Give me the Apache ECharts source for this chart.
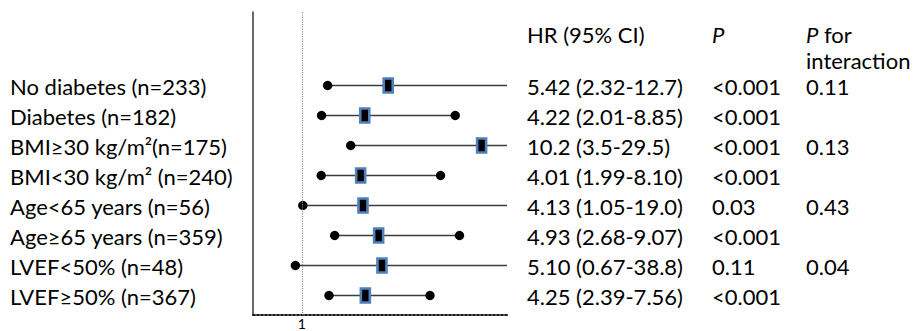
<!DOCTYPE html>
<html>
<head>
<meta charset="utf-8">
<title>Subgroup hazard ratios</title>
<script src="https://cdn.jsdelivr.net/npm/echarts@6/dist/echarts.min.js"></script>
<style>
  html, body { margin: 0; padding: 0; background: #fff; }
  #chart { width: 919px; height: 331px; }
</style>
</head>
<body>
<div id="chart"></div>
<script>
// Subgroups and their hazard ratios with 95% confidence limits
const subgroups = [
  'No diabetes (n=233)',
  'Diabetes (n=182)',
  'BMI≥30 kg/m²(n=175)',
  'BMI<30 kg/m² (n=240)',
  'Age<65 years (n=56)',
  'Age≥65 years (n=359)',
  'LVEF<50% (n=48)',
  'LVEF≥50% (n=367)'
];
const hr    = [5.42, 4.22, 10.2, 4.01, 4.13, 4.93, 5.10, 4.25];
const lower = [2.32, 2.01, 3.5, 1.99, 1.05, 2.68, 0.67, 2.39];
const upper = [12.7, 8.85, 29.5, 8.10, 19.0, 9.07, 38.8, 7.56];
const hrLabels = [
  '5.42 (2.32-12.7)',
  '4.22 (2.01-8.85)',
  '10.2 (3.5-29.5)',
  '4.01 (1.99-8.10)',
  '4.13 (1.05-19.0)',
  '4.93 (2.68-9.07)',
  '5.10 (0.67-38.8)',
  '4.25 (2.39-7.56)'
];
const pValues = ['<0.001', '<0.001', '<0.001', '<0.001', '0.03', '<0.001', '0.11', '<0.001'];
const pInteraction = ['0.11', '', '0.13', '', '0.43', '', '0.04', ''];
const xTickLabels = ['1'];

const FONT = 'Lato';
const FS = 22;
const TXT = { fontFamily: FONT, fontSize: FS, fill: '#000', verticalAlign: 'middle' };

const forestData = hr.map((v, i) => [i, lower[i], v, upper[i]]);
const tableData = subgroups.map((s, i) => [0, i]);

function renderForest(params, api) {
  const row = api.value(0);
  const lo = api.coord([api.value(1), row]);
  const est = api.coord([api.value(2), row]);
  const hi = api.coord([api.value(3), row]);
  const cs = params.coordSys;
  const xMin = cs.x, xMax = cs.x + cs.width;
  const y = est[1];
  const children = [];
  children.push({
    type: 'line',
    shape: { x1: Math.max(lo[0], xMin), y1: y, x2: Math.min(hi[0], xMax), y2: y },
    style: { stroke: '#3c3c3c', lineWidth: 1.6 }
  });
  [lo, hi].forEach(p => {
    if (p[0] >= xMin && p[0] <= xMax) {
      children.push({ type: 'circle', shape: { cx: p[0], cy: y, r: 4.7 }, style: { fill: '#000' } });
    }
  });
  children.push({
    type: 'rect',
    shape: { x: est[0] - 4.5, y: y - 7, width: 9, height: 14 },
    style: { fill: '#000', stroke: '#4f81bd', lineWidth: 2.6 }
  });
  return { type: 'group', children };
}

function renderTable(params, api) {
  const i = api.value(1);
  const y = api.coord([0, i])[1] + 1;
  return {
    type: 'group',
    children: [
      { type: 'text', x: 10, y, style: Object.assign({ text: subgroups[i] }, TXT) },
      { type: 'text', x: 527, y, style: Object.assign({ text: hrLabels[i] }, TXT) },
      { type: 'text', x: 712, y, style: Object.assign({ text: pValues[i] }, TXT) },
      { type: 'text', x: 806, y, style: Object.assign({ text: pInteraction[i] }, TXT) }
    ]
  };
}

const chart = echarts.init(document.getElementById('chart'), null, { renderer: 'svg' });
chart.setOption({
  animation: false,
  backgroundColor: '#fff',
  grid: { left: 253, right: 412, top: 12, bottom: 16, containLabel: false },
  xAxis: {
    type: 'value',
    min: -1.5,
    max: 11.5,
    interval: 0.5,
    splitLine: { show: false },
    axisTick: { show: false },
    axisLine: { show: true, onZero: false, lineStyle: { color: '#1a1a1a', width: 2, type: 'dotted' } },
    axisLabel: {
      show: true,
      margin: 1,
      fontFamily: FONT,
      fontSize: 14,
      lineHeight: 14,
      color: '#000',
      formatter: v => (Math.abs(v - 1) < 1e-9 ? xTickLabels[0] : '')
    }
  },
  yAxis: {
    type: 'value',
    inverse: true,
    min: -2.45,
    max: 7.65,
    splitLine: { show: false },
    axisTick: { show: false },
    axisLabel: { show: false },
    axisLine: { show: true, onZero: false, lineStyle: { color: '#444', width: 1.6 } }
  },
  graphic: [
    { type: 'text', left: 527, top: 23, style: { text: 'HR (95% CI)', fontFamily: FONT, fontSize: FS, fill: '#000' } },
    { type: 'text', left: 712, top: 23, style: { text: 'P', fontFamily: FONT, fontSize: FS, fontStyle: 'italic', fill: '#000' } },
    { type: 'text', left: 806, top: 23, style: {
        text: '{i|P} for', fontFamily: FONT, fontSize: FS, fill: '#000',
        rich: { i: { fontFamily: FONT, fontSize: FS, fontStyle: 'italic', fill: '#000' } } } },
    { type: 'text', left: 806, top: 49, style: { text: 'interaction', fontFamily: FONT, fontSize: FS, fill: '#000' } }
  ],
  series: [
    {
      name: 'reference',
      type: 'line',
      data: [],
      silent: true,
      markLine: {
        symbol: 'none',
        silent: true,
        label: { show: false },
        lineStyle: { color: '#8c8c8c', width: 1.2, type: 'dotted' },
        data: [{ xAxis: 1 }]
      }
    },
    {
      name: 'HR',
      type: 'custom',
      renderItem: renderForest,
      data: forestData,
      encode: { x: [1, 2, 3], y: 0 },
      silent: true
    },
    {
      name: 'table',
      type: 'custom',
      renderItem: renderTable,
      data: tableData,
      encode: { x: 0, y: 1 },
      clip: false,
      silent: true
    }
  ]
});
</script>
</body>
</html>
